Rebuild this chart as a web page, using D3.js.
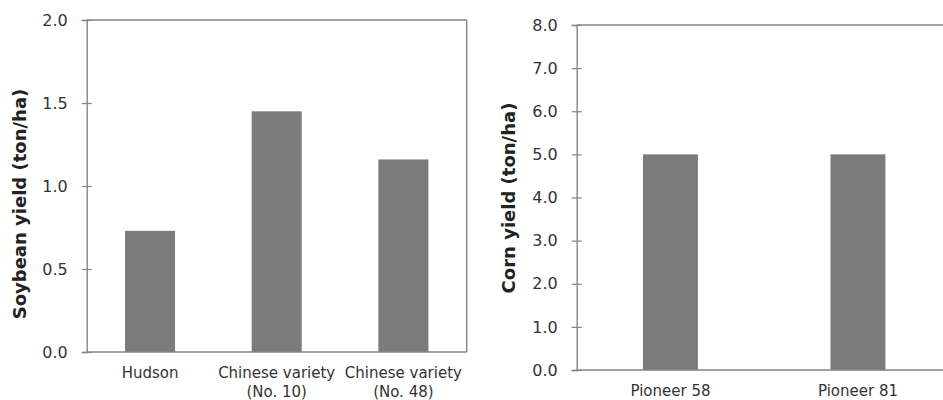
<!DOCTYPE html>
<html>
<head>
<meta charset="utf-8">
<script src="https://cdn.jsdelivr.net/npm/d3@7"></script>
<style>
  html, body { margin: 0; padding: 0; background: #fff; }
  svg { display: block; }
  text { font-family: "DejaVu Sans", Verdana, sans-serif; }
</style>
</head>
<body>
<svg id="chart" width="943" height="400"></svg>
<script>
// Soybean yield by variety (left panel)
const soyVarieties = ["Hudson", "Chinese variety\n(No. 10)", "Chinese variety\n(No. 48)"];
const soyYield = [0.73, 1.45, 1.16];
const soyTicks = [0, 0.5, 1.0, 1.5, 2.0];

// Corn yield by hybrid (right panel)
const cornHybrids = ["Pioneer 58", "Pioneer 81"];
const cornYield = [5.0, 5.0];
const cornTicks = [0, 1, 2, 3, 4, 5, 6, 7, 8];

const svg = d3.select("#chart");
const axisColor = "#858585";
const barColor = "#7b7b7b";

function panel(opts) {
  const { left, right, top, bottom, cats, vals, ticks, title, titleX, titleY,
          padInner, frameRight } = opts;
  const g = svg.append("g");

  const x = d3.scaleBand().domain(cats).range([left, right])
    .paddingInner(padInner).paddingOuter(padInner / 2);
  const y = d3.scaleLinear().domain([ticks[0], ticks[ticks.length - 1]]).range([bottom, top]);

  // bars
  g.selectAll("rect.bar").data(cats).join("rect")
    .attr("class", "bar")
    .attr("x", d => x(d))
    .attr("width", x.bandwidth())
    .attr("y", (d, i) => y(vals[i]))
    .attr("height", (d, i) => y(0) - y(vals[i]))
    .attr("fill", barColor);

  // frame lines
  const frame = g.append("g").attr("stroke", axisColor).attr("stroke-width", 1.4).attr("fill", "none");
  frame.append("line").attr("x1", left).attr("x2", right).attr("y1", y(ticks[ticks.length - 1])).attr("y2", y(ticks[ticks.length - 1]));
  frame.append("line").attr("x1", left).attr("x2", right).attr("y1", y(0)).attr("y2", y(0));
  if (frameRight) {
    frame.append("line").attr("x1", right).attr("x2", right).attr("y1", top).attr("y2", bottom);
  }

  // y axis with ticks crossing the axis line
  const yAxis = g.append("g")
    .attr("transform", `translate(${left},0)`)
    .call(d3.axisLeft(y).tickValues(ticks).tickFormat(d3.format(".1f")).tickSize(5).tickPadding(14));
  yAxis.select(".domain").attr("stroke", axisColor).attr("stroke-width", 1.4);
  yAxis.selectAll(".tick line").attr("x1", -5).attr("x2", 5).attr("stroke", axisColor).attr("stroke-width", 1.2);
  yAxis.selectAll(".tick text")
    .attr("font-size", 16).attr("fill", "#333")
    .attr("font-family", "\"DejaVu Sans\", Verdana, sans-serif");

  // category labels
  const lab = g.append("g");
  cats.forEach(c => {
    const lines = c.split("\n");
    const t = lab.append("text")
      .attr("x", x(c) + x.bandwidth() / 2)
      .attr("y", bottom + 26)
      .attr("text-anchor", "middle")
      .attr("font-size", 15)
      .attr("fill", "#333");
    lines.forEach((ln, k) => {
      t.append("tspan").attr("x", x(c) + x.bandwidth() / 2).attr("dy", k === 0 ? 0 : 19).text(ln);
    });
  });

  // y title
  g.append("text")
    .attr("transform", `translate(${titleX},${titleY}) rotate(-90)`)
    .attr("text-anchor", "middle")
    .attr("font-size", 18)
    .attr("font-weight", "bold")
    .attr("fill", "#222")
    .text(title);
}

panel({
  left: 86.7, right: 466.7, top: 20, bottom: 352,
  cats: soyVarieties, vals: soyYield, ticks: soyTicks,
  title: "Soybean yield (ton/ha)", titleX: 26, titleY: 204,
  padInner: 0.605, frameRight: true
});

panel({
  left: 576.7, right: 951.7, top: 25, bottom: 370,
  cats: cornHybrids, vals: cornYield, ticks: cornTicks,
  title: "Corn yield (ton/ha)", titleX: 515, titleY: 198,
  padInner: 0.707, frameRight: false
});
</script>
</body>
</html>
